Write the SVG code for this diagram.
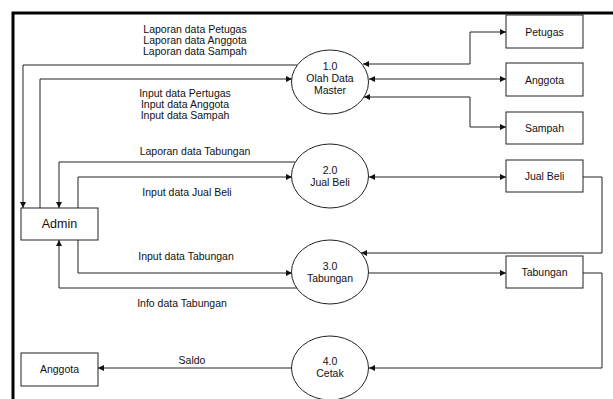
<svg xmlns="http://www.w3.org/2000/svg" width="613" height="399" viewBox="0 0 613 399">
  <style>
    text { font-family: "Liberation Sans", Arial, sans-serif; font-size: 10.5px; fill: #111; text-anchor: middle; }
    .big { font-size: 12.5px; }
    .box { fill: #fff; stroke: #222; stroke-width: 1; }
    .proc { fill: #fff; stroke: #222; stroke-width: 1; }
    .flow { fill: none; stroke: #222; stroke-width: 1; }
    .frame { fill: none; stroke: #000; stroke-width: 3; }
  </style>
  <defs>
    <marker id="arr" viewBox="0 0 10 10" refX="10" refY="5" markerWidth="7" markerHeight="6" orient="auto-start-reverse" markerUnits="userSpaceOnUse">
      <path d="M0,0 L10,5 L0,10 z" fill="#111"/>
    </marker>
  </defs>
  <rect width="613" height="399" fill="#fff"/>

  <!-- page frame -->
  <path class="frame" d="M13,399 V13 H613"/>

  <g id="connectors">
    <!-- Admin <-> 1.0 -->
    <path class="flow" d="M297,65 H23 V208" marker-end="url(#arr)"/>
    <path class="flow" d="M40,208 V79 H292" marker-end="url(#arr)"/>
    <!-- 1.0 <-> Petugas / Anggota / Sampah -->
    <path class="flow" d="M363,64 H470 V32 H506" marker-start="url(#arr)" marker-end="url(#arr)"/>
    <path class="flow" d="M369,79 H506" marker-start="url(#arr)" marker-end="url(#arr)"/>
    <path class="flow" d="M364,97 H470 V127 H506" marker-start="url(#arr)" marker-end="url(#arr)"/>
    <!-- Admin <-> 2.0 -->
    <path class="flow" d="M295,162 H59 V208" marker-end="url(#arr)"/>
    <path class="flow" d="M78,208 V177 H292" marker-end="url(#arr)"/>
    <!-- 2.0 <-> Jual Beli -->
    <path class="flow" d="M369,177 H506" marker-start="url(#arr)" marker-end="url(#arr)"/>
    <!-- Jual Beli -> 3.0 -->
    <path class="flow" d="M583,177 H602 V253 H361" marker-end="url(#arr)"/>
    <!-- Admin <-> 3.0 -->
    <path class="flow" d="M78,240 V273 H292" marker-end="url(#arr)"/>
    <path class="flow" d="M297,288 H59 V240" marker-end="url(#arr)"/>
    <!-- 3.0 -> Tabungan -->
    <path class="flow" d="M369,273 H506" marker-end="url(#arr)"/>
    <!-- Tabungan -> 4.0 -->
    <path class="flow" d="M583,273 H602 V368 H369" marker-end="url(#arr)"/>
    <!-- 4.0 -> Anggota -->
    <path class="flow" d="M292,368 H98" marker-end="url(#arr)"/>

    <!-- flow labels -->
    <text x="195" y="33">Laporan data Petugas</text>
    <text x="195" y="44">Laporan data Anggota</text>
    <text x="195" y="55">Laporan data Sampah</text>
    <text x="185" y="97">Input data Pertugas</text>
    <text x="185" y="108">Input data Anggota</text>
    <text x="185" y="119">Input data Sampah</text>
    <text x="195" y="155">Laporan data Tabungan</text>
    <text x="187" y="196">Input data Jual Beli</text>
    <text x="186" y="260">Input data Tabungan</text>
    <text x="182" y="307">Info data Tabungan</text>
    <text x="192" y="364">Saldo</text>
  </g>

  <g id="admin">
    <rect class="box" x="21" y="208" width="77" height="32"/>
    <text class="big" x="59.5" y="228">Admin</text>
  </g>
  <g id="anggota-out">
    <rect class="box" x="21" y="353" width="77" height="33"/>
    <text x="59.5" y="373">Anggota</text>
  </g>

  <g id="p1">
    <ellipse class="proc" cx="330" cy="82" rx="38.5" ry="32"/>
    <text x="330" y="70">1.0</text>
    <text x="330" y="82">Olah Data</text>
    <text x="330" y="94">Master</text>
  </g>
  <g id="p2">
    <ellipse class="proc" cx="330" cy="176" rx="38.5" ry="32"/>
    <text x="330" y="174">2.0</text>
    <text x="330" y="186">Jual Beli</text>
  </g>
  <g id="p3">
    <ellipse class="proc" cx="330" cy="272" rx="38.5" ry="32"/>
    <text x="330" y="270">3.0</text>
    <text x="330" y="282">Tabungan</text>
  </g>
  <g id="p4">
    <ellipse class="proc" cx="330" cy="368" rx="38.5" ry="32"/>
    <text x="330" y="365">4.0</text>
    <text x="330" y="377">Cetak</text>
  </g>

  <g id="petugas">
    <rect class="box" x="506" y="15" width="77" height="33"/>
    <text x="544.5" y="36">Petugas</text>
  </g>
  <g id="anggota">
    <rect class="box" x="506" y="63" width="77" height="33"/>
    <text x="544.5" y="84">Anggota</text>
  </g>
  <g id="sampah">
    <rect class="box" x="506" y="112" width="77" height="32"/>
    <text x="544.5" y="132">Sampah</text>
  </g>
  <g id="jualbeli">
    <rect class="box" x="506" y="160" width="77" height="32"/>
    <text x="544.5" y="180">Jual Beli</text>
  </g>
  <g id="tabungan">
    <rect class="box" x="506" y="256" width="77" height="32"/>
    <text x="544.5" y="276">Tabungan</text>
  </g>
</svg>
